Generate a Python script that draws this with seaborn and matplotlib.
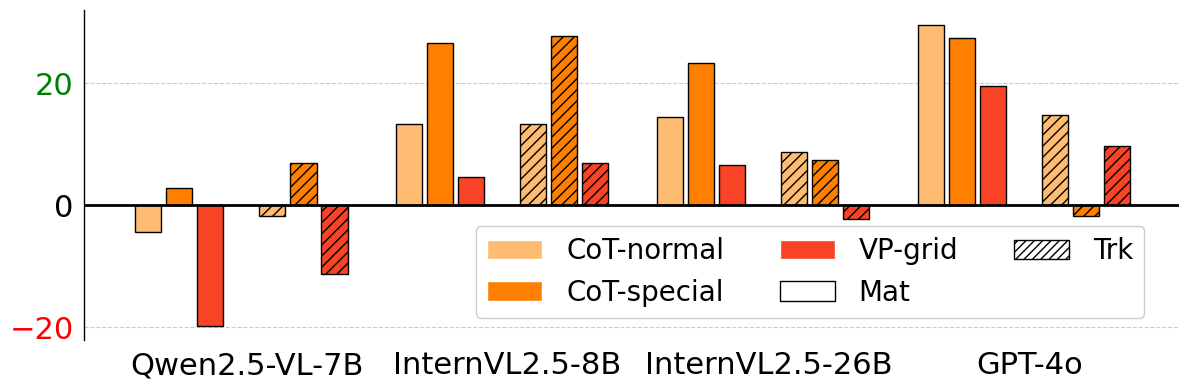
import numpy as np
import matplotlib
matplotlib.use("Agg")
import matplotlib.pyplot as plt
import seaborn as sns
from matplotlib.patches import Patch

# --------------------------------------------------------------------------------
# Data
# --------------------------------------------------------------------------------

models = ["Qwen2.5-VL-7B", "InternVL2.5-8B", "InternVL2.5-26B", "GPT-4o"]
methods = ["CoT-normal", "CoT-special", "VP-grid"]
colors = ["#FDBC72", "#FF8000", "#F84326"]

# Mat (solid) and Trk (hatched) results, one list per method
mat_cot_normal = [-4.3, 13.3, 14.4, 29.5]
mat_cot_special = [2.8, 26.6, 23.4, 27.4]
mat_vp_grid = [-19.8, 4.6, 6.6, 19.5]

trk_cot_normal = [-1.8, 13.3, 8.7, 14.8]
trk_cot_special = [6.9, 27.7, 7.4, -1.8]
trk_vp_grid = [-11.3, 6.9, -2.3, 9.7]

mat_vals = [mat_cot_normal, mat_cot_special, mat_vp_grid]
trk_vals = [trk_cot_normal, trk_cot_special, trk_vp_grid]

# --------------------------------------------------------------------------------
# Plot
# --------------------------------------------------------------------------------

sns.set_style("white")
plt.rcParams["font.family"] = ["DejaVu Sans"]
plt.rcParams["text.color"] = "black"
plt.rcParams["xtick.color"] = "black"
plt.rcParams["ytick.color"] = "black"

fig = plt.figure(figsize=(11.89, 3.9), dpi=100)
ax = fig.add_axes([0.0707, 0.128, 0.9213, 0.846])

x = np.arange(len(models))
Width = 0.1
Step = 0.119
Mat_Offset = -0.259
Trk_Offset = 0.218

for j in range(3):
    ax.bar(x + Mat_Offset + (j - 1) * Step, mat_vals[j], Width,
           color=colors[j], edgecolor="black", linewidth=1, zorder=3)
    ax.bar(x + Trk_Offset + (j - 1) * Step, trk_vals[j], Width,
           color=colors[j], edgecolor="black", linewidth=1, hatch="///", zorder=3)

ax.axhline(0, color="black", linewidth=2, zorder=4)
ax.set_yticks([-20, 0, 20])
ax.yaxis.grid(True, linestyle="--", color="#cccccc", linewidth=0.8, zorder=0)
ax.set_axisbelow(True)

ax.set_xlim(-0.623, 3.576)
ax.set_ylim(-22.1, 32)
ax.set_xticks(x)
ax.set_xticklabels(models, fontsize=22)
ax.tick_params(axis="y", labelsize=22, length=4)
ax.tick_params(axis="x", length=4, pad=4)

tick_colors = ["red", "black", "green"]
for lab, c in zip(ax.get_yticklabels(), tick_colors):
    lab.set_color(c)

for side in ["top", "right", "bottom"]:
    ax.spines[side].set_visible(False)
ax.spines["left"].set_color("black")
ax.spines["left"].set_linewidth(1)

handles = [Patch(facecolor=colors[0], label="CoT-normal"),
           Patch(facecolor=colors[1], label="CoT-special"),
           Patch(facecolor=colors[2], label="VP-grid"),
           Patch(facecolor="white", edgecolor="black", label="Mat"),
           Patch(facecolor="white", edgecolor="black", hatch="////", label="Trk")]

ax.legend(handles=handles, ncol=3, fontsize=20, loc="lower right",
          bbox_to_anchor=(0.968, 0.067), borderaxespad=0, handlelength=2.0,
          handletextpad=0.85, columnspacing=2.0, framealpha=1)

fig.savefig("out.png", dpi=100)
